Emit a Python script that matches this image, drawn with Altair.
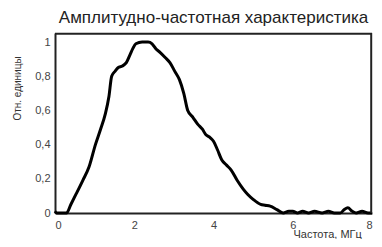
import altair as alt
import pandas as pd

freq = [0.0, 0.04, 0.15, 0.29, 0.40, 0.53, 0.70, 0.86, 1.02, 1.15, 1.27, 1.36, 1.43, 1.52, 1.59, 1.70, 1.80, 1.90, 1.96, 2.04, 2.20, 2.35, 2.45,
        2.55, 2.65, 2.78, 2.90, 3.02, 3.14, 3.25, 3.35, 3.48, 3.60, 3.72, 3.80, 3.92, 4.00, 4.10, 4.21, 4.33, 4.45, 4.60,
        4.75, 4.86, 5.00, 5.19, 5.30, 5.43, 5.60, 5.76, 5.90, 6.00, 6.12, 6.25, 6.40, 6.55, 6.74, 6.90, 7.05, 7.20, 7.30,
        7.39, 7.50, 7.60, 7.75, 7.90, 8.0]
amp = [0.01, 0.0, 0.0, 0.0, 0.05, 0.11, 0.19, 0.27, 0.40, 0.49, 0.58, 0.68, 0.80, 0.83, 0.85, 0.86, 0.88, 0.93, 0.96, 0.99, 1.0, 1.0, 0.99,
       0.96, 0.94, 0.91, 0.88, 0.83, 0.78, 0.70, 0.60, 0.56, 0.52, 0.49, 0.46, 0.44, 0.42, 0.37, 0.31, 0.28, 0.25, 0.19,
       0.14, 0.11, 0.08, 0.05, 0.045, 0.04, 0.02, 0.0, 0.01, 0.01, 0.0, 0.01, 0.0, 0.01, 0.0, 0.01, 0.0, 0.0, 0.02,
       0.03, 0.01, 0.0, 0.01, 0.0, 0.0]

x_ticks = [0, 2, 4, 6, 8]
y_ticks = [0, 0.2, 0.4, 0.6, 0.8, 1]
x_max = 8
y_max = 1.053

df = pd.DataFrame({"f": freq, "a": amp})

font = "Liberation Sans"
W, H = 317, 180
DC = "#222"

xs = alt.Scale(domain=[0, x_max], nice=False, zero=False)
ys = alt.Scale(domain=[0, y_max], nice=False)

line = alt.Chart(df).mark_line(color="black", strokeWidth=3, interpolate="monotone").encode(
    x=alt.X("f:Q", scale=xs,
            axis=alt.Axis(values=x_ticks, title="Частота, МГц", grid=False, domain=True, domainColor=DC,
                          domainWidth=2, ticks=False, labelOverlap=False,
                          labelPadding=6, labelFontSize=11, labelColor="#444", labelFont=font,
                          titleFont=font, titleFontSize=11, titleFontWeight="normal", titleColor="#333",
                          titleX=238, titleY=24, titleAlign="left", titleBaseline="alphabetic")),
    y=alt.Y("a:Q", scale=ys,
            axis=alt.Axis(values=y_ticks, labelExpr="replace(format(datum.value, '~g'), '.', ',')",
                          title="Отн. единицы", grid=False, domain=True, domainColor=DC,
                          domainWidth=2, ticks=False, labelOverlap=False,
                          labelPadding=5, labelFontSize=11, labelColor="#444", labelFont=font,
                          titleFont=font, titleFontSize=10, titleFontWeight="normal", titleColor="#333",
                          titleX=-38, titleY=55, titleAlign="center", titleBaseline="middle", titleAngle=-90)),
)

top_rule = alt.Chart(pd.DataFrame({"v": [y_max - 0.004]})).mark_rule(color=DC, strokeWidth=2).encode(
    y=alt.Y("v:Q", scale=ys, axis=None)
)
right_rule = alt.Chart(pd.DataFrame({"v": [x_max - 0.02]})).mark_rule(color=DC, strokeWidth=2).encode(
    x=alt.X("v:Q", scale=xs, axis=None)
)

chart = alt.layer(line, top_rule, right_rule).resolve_axis(x="independent", y="independent").properties(
    width=W, height=H,
    autosize=alt.AutoSizeParams(type="none"),
    padding={"left": 47, "top": 25, "right": 2, "bottom": 26},
    title=alt.TitleParams("Амплитудно-частотная характеристика", font=font, fontSize=17,
                          fontWeight="normal", color="#222", anchor="middle", offset=5),
).configure(background="white").configure_view(strokeWidth=0)

chart.save("out.html", embed_options={"renderer": "svg", "actions": False})
